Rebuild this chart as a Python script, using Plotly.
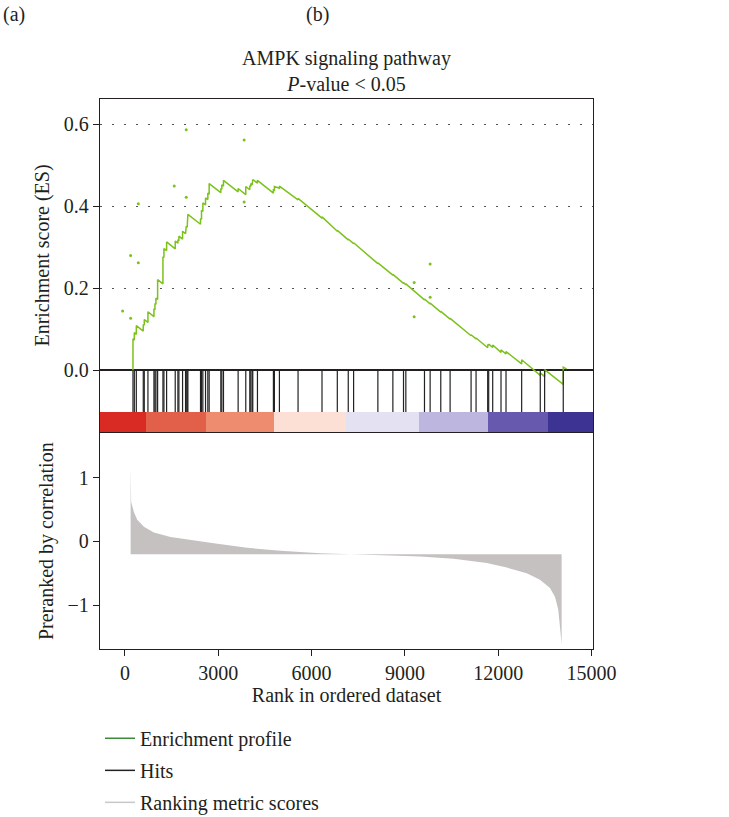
import plotly.graph_objects as go

# Enrichment profile (rank, ES)
es_rank = [258, 258, 301, 301, 365, 365, 589, 589, 621, 621, 739, 739,
           932, 932, 964, 964, 996, 996, 1050, 1050, 1221, 1221, 1253, 1253,
           1339, 1339, 1616, 1616, 1702, 1702, 1734, 1734, 1852, 1852,
           1948, 1948, 1969, 1969, 2001, 2001, 2023, 2023, 2429, 2429,
           2461, 2461, 2504, 2504, 2590, 2590, 2664, 2664, 2707, 2707,
           3082, 3082, 3114, 3114, 3167, 3167, 3638, 3638, 3884, 3884,
           4013, 4013, 4045, 4045, 4088, 4088, 4109, 4109, 4259, 4259,
           4772, 4772, 4804, 4804, 4965, 4965, 5564, 5564, 6334, 6334,
           6826, 6826, 7178, 7178, 7350, 7350, 8130, 8130, 8612, 8612,
           8954, 8954, 9029, 9029, 9628, 9628, 9810, 9810, 10152, 10152,
           10452, 10452, 11126, 11126, 11286, 11286, 11660, 11660,
           11692, 11692, 11821, 11821, 12088, 12088, 12249, 12249,
           12752, 12752, 13350, 13350, 13490, 13490, 14089, 14089, 14197]
es_score = [0.0, 0.077, 0.074, 0.092, 0.088, 0.109, 0.096, 0.112, 0.110, 0.124, 0.117, 0.143,
            0.131, 0.150, 0.148, 0.163, 0.161, 0.176, 0.173, 0.221, 0.211, 0.277, 0.275, 0.297,
            0.292, 0.313, 0.296, 0.315, 0.310, 0.318, 0.316, 0.327, 0.320, 0.339,
            0.333, 0.345, 0.344, 0.351, 0.349, 0.365, 0.364, 0.380, 0.356, 0.370,
            0.368, 0.390, 0.387, 0.408, 0.403, 0.420, 0.416, 0.432, 0.429, 0.455,
            0.433, 0.443, 0.441, 0.452, 0.449, 0.463, 0.435, 0.443, 0.428, 0.448,
            0.440, 0.450, 0.448, 0.455, 0.452, 0.460, 0.459, 0.465, 0.456, 0.463,
            0.432, 0.440, 0.439, 0.448, 0.444, 0.449, 0.4155, 0.419, 0.371, 0.374,
            0.339, 0.341, 0.318, 0.320, 0.309, 0.311, 0.260, 0.262, 0.232, 0.234,
            0.212, 0.214, 0.209, 0.211, 0.172, 0.174, 0.162, 0.164, 0.142, 0.144,
            0.125, 0.127, 0.0845, 0.087, 0.077, 0.079, 0.0554, 0.063,
            0.061, 0.064, 0.056, 0.062, 0.044, 0.050, 0.040, 0.046,
            0.016, 0.026, -0.012, -0.006, -0.015, 0.002, -0.034, 0.008, 0.004]

# stray points of the profile
dot_rank = [-74, 183, 183, 429, 429, 1584, 1969, 1969, 3831, 3831, 9297, 9297, 9810, 9810]
dot_score = [0.145, 0.280, 0.127, 0.262, 0.406, 0.449, 0.586, 0.422, 0.561, 0.410,
             0.214, 0.131, 0.259, 0.178]

# hit positions
hits = [258, 301, 365, 589, 621, 739, 932, 964, 996, 1050, 1221, 1253, 1339,
        1616, 1702, 1734, 1852, 1948, 1969, 2001, 2023, 2429, 2461, 2504,
        2590, 2664, 2707, 3082, 3114, 3167, 3638, 3884, 4013, 4045, 4088,
        4109, 4259, 4772, 4804, 4965, 5564, 6334, 6826, 7178, 7350, 8130,
        8612, 8954, 9029, 9628, 9810, 10152, 10452, 11126, 11286, 11660,
        11692, 11821, 12088, 12249, 12752, 13350, 13490, 14089]

# ranking colour band
band_edges = [-802, 664, 2590, 4804, 7115, 9458, 11672, 13598, 15045]
band_colors = ['#DA2A24', '#E2604A', '#EE8C6F', '#FCE0D6',
               '#E3E1F2', '#BDB7DF', '#6759AD', '#3D3393']

# ranking metric scores
metric_rank = [183, 200, 289, 396, 610, 931, 1467, 2109, 2857, 3927, 4997, 6281,
               7349, 9490, 10562, 11630, 12272, 12914, 13341, 13662, 13822,
               13928, 13983, 14037]
metric_score = [1.15, 0.62, 0.46, 0.34, 0.23, 0.14, 0.07, 0.02, -0.03, -0.10, -0.145, -0.185,
                -0.20, -0.236, -0.272, -0.34, -0.41, -0.50, -0.60, -0.73, -0.87,
                -1.07, -1.34, -1.62]
metric_base = -0.2

x_range = [-802, 15045]
x_ticks = [0, 3000, 6000, 9000, 12000, 15000]
x_labels = ['0', '3000', '6000', '9000', '12000', '15000']
es_ticks = [0.0, 0.2, 0.4, 0.6]
es_labels = ['0.0', '0.2', '0.4', '0.6']
metric_ticks = [-1, 0, 1]
metric_labels = ['\u22121', '0', '1']

FONT = 'Liberation Serif'
INK = '#231F20'
GREEN = '#7CC21C'
FS = 20

fig = go.Figure()

fig.add_trace(go.Scatter(x=es_rank, y=es_score, mode='lines',
                         line=dict(color=GREEN, width=1.5),
                         xaxis='x', yaxis='y', showlegend=False))
fig.add_trace(go.Scatter(x=dot_rank, y=dot_score, mode='markers',
                         marker=dict(color=GREEN, size=3),
                         xaxis='x', yaxis='y', showlegend=False))

hx, hy = [], []
for h in hits:
    hx += [h, h, None]
    hy += [0, 1, None]
fig.add_trace(go.Scatter(x=hx, y=hy, mode='lines', line=dict(color='#222222', width=1.2),
                         xaxis='x', yaxis='y2', showlegend=False))

centers = [(a + b) / 2 for a, b in zip(band_edges[:-1], band_edges[1:])]
widths = [b - a for a, b in zip(band_edges[:-1], band_edges[1:])]
fig.add_trace(go.Bar(x=centers, y=[1] * len(centers), width=widths,
                     marker=dict(color=band_colors, line=dict(width=0)),
                     xaxis='x2', yaxis='y3', showlegend=False))

fig.add_trace(go.Scatter(x=[metric_rank[0], metric_rank[-1]], y=[metric_base, metric_base],
                         mode='lines', line=dict(width=0, color='#C6C1C1'),
                         xaxis='x3', yaxis='y4', showlegend=False))
fig.add_trace(go.Scatter(x=metric_rank, y=metric_score, mode='lines', fill='tonexty',
                         fillcolor='#C6C1C1', line=dict(width=0, color='#C6C1C1'),
                         xaxis='x3', yaxis='y4', showlegend=False))

# legend entries
for name, col in [('Enrichment profile', '#3C8C3C'), ('Hits', '#222222'),
                  ('Ranking metric scores', '#C8C8C8')]:
    fig.add_trace(go.Scatter(x=[None], y=[None], mode='lines', name=name,
                             line=dict(color=col, width=1.5), legendgroup=name,
                             xaxis='x3', yaxis='y4'))

axis_common = dict(linecolor=INK, linewidth=1.3, tickcolor=INK, automargin=False,
                   tickfont=dict(size=FS, color=INK))

fig.update_layout(
    width=729, height=817,
    margin=dict(l=100, r=136, t=99, b=168, autoexpand=False),
    paper_bgcolor='white', plot_bgcolor='rgba(0,0,0,0)',
    font=dict(family=FONT, size=FS, color=INK),
    title=dict(text='AMPK signaling pathway<br><i>P</i>-value < 0.05',
               x=0.5, xref='paper', y=1 - 65 / 817, yref='container',
               yanchor='middle', xanchor='center', font=dict(size=FS)),
    xaxis=dict(domain=[0, 1], anchor='y', side='top', range=x_range, showline=True,
               showgrid=False, zeroline=False, showticklabels=False, ticks='',
               linecolor=INK, linewidth=1.3, automargin=False),
    yaxis=dict(domain=[0.431, 1], anchor='x', range=[-0.101, 0.661],
               tickvals=es_ticks, ticktext=es_labels, ticks='outside', ticklen=6,
               showline=True, mirror=True, showgrid=True, gridcolor='#555555',
               gridwidth=1.3, griddash='2px,10px', zeroline=True, zerolinecolor=INK,
               zerolinewidth=1.6, title=dict(text='Enrichment score (ES)', font=dict(size=FS),
                                             standoff=8),
               **axis_common),
    yaxis2=dict(domain=[0.431, 0.507], anchor='x', range=[0, 1], visible=False),
    xaxis2=dict(domain=[0, 1], anchor='y3', range=x_range, visible=False),
    yaxis3=dict(domain=[0.392, 0.431], anchor='x2', range=[0, 1], showline=True,
                mirror=True, showticklabels=False, ticks='', showgrid=False,
                zeroline=False, linecolor=INK, linewidth=1.3),
    xaxis3=dict(domain=[0, 1], anchor='y4', range=x_range, tickvals=x_ticks, ticktext=x_labels,
                ticks='outside', ticklen=6, showline=True, mirror=True, showgrid=False,
                zeroline=False, title=dict(text='Rank in ordered dataset', font=dict(size=FS),
                                           standoff=4),
                **axis_common),
    yaxis4=dict(domain=[0, 0.392], anchor='x3', range=[-1.69, 1.698],
                tickvals=metric_ticks, ticktext=metric_labels, ticks='outside', ticklen=6,
                showline=True, mirror=True, showgrid=False, zeroline=False,
                title=dict(text='Preranked by correlation', font=dict(size=FS), standoff=8),
                **axis_common),
    bargap=0,
    showlegend=True,
    legend=dict(x=0.0, xanchor='left', y=-0.127, yanchor='top', orientation='v',
                font=dict(size=FS, color=INK), tracegroupgap=3, bgcolor='rgba(0,0,0,0)'),
    annotations=[
        dict(text='(a)', x=-0.174, y=1.153, xref='paper', yref='paper', showarrow=False,
             font=dict(size=FS), xanchor='center', yanchor='middle'),
        dict(text='(b)', x=0.442, y=1.153, xref='paper', yref='paper', showarrow=False,
             font=dict(size=FS), xanchor='center', yanchor='middle'),
    ],
)

fig.write_html('out.html', config={'displayModeBar': False},
               post_script="document.body.style.margin='0';document.body.style.overflow='hidden';")
